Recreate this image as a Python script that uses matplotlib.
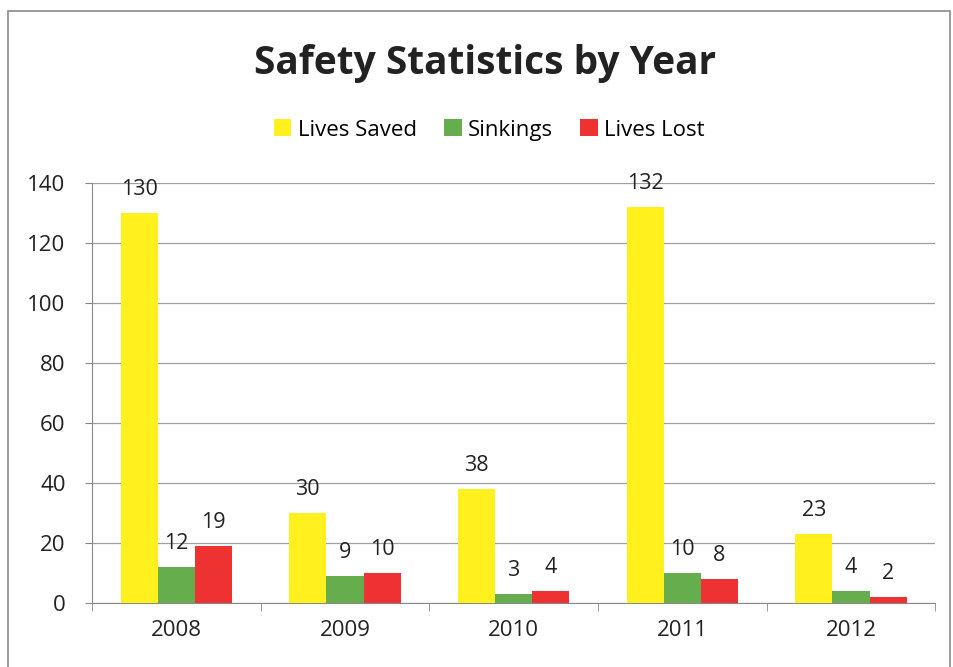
import numpy as np
import matplotlib.pyplot as plt
from matplotlib.patches import Rectangle

years = ["2008", "2009", "2010", "2011", "2012"]
lives_saved = [130, 30, 38, 132, 23]
sinkings = [12, 9, 3, 10, 4]
lives_lost = [19, 10, 4, 8, 2]

plt.rcParams['font.family'] = ['Open Sans', 'DejaVu Sans']

fig = plt.figure(figsize=(9.54, 6.67), dpi=100)
ax = fig.add_axes([0.0964, 0.096, 0.884, 0.63])

# outer chart frame
fig.patches.append(Rectangle((0.008, -0.01), 0.988, 0.993, transform=fig.transFigure,
                             fill=False, edgecolor="#8a8a8a", linewidth=1.2))

x = np.arange(len(years))
w = 0.22
series = [(lives_saved, "#FFF01E", "Lives Saved"),
          (sinkings, "#66AD4E", "Sinkings"),
          (lives_lost, "#EE3131", "Lives Lost")]
for i, (vals, col, name) in enumerate(series):
    bars = ax.bar(x + (i - 1) * w, vals, w, color=col, label=name, zorder=3)
    for b, v in zip(bars, vals):
        ax.annotate(str(v), (b.get_x() + b.get_width() / 2, v), xytext=(0, 9),
                    textcoords="offset points", ha="center", va="bottom",
                    fontsize=15.5, color="#222222")

ax.set_xlim(-0.5, len(years) - 0.5)
ax.set_ylim(0, 140)
ax.set_yticks(range(0, 141, 20))
ax.set_xticks(x)
ax.set_xticklabels(years)
ax.set_xticks(np.arange(-0.5, len(years)), minor=True)
ax.tick_params(axis="x", which="major", length=0, pad=12, labelsize=16, labelcolor="#222222")
ax.tick_params(axis="x", which="minor", length=6, direction="out", color="#888888")
ax.tick_params(axis="y", length=5, direction="out", color="#888888", pad=14,
               labelsize=16, labelcolor="#222222")
ax.grid(axis="y", color="#a0a0a0", linewidth=0.9, zorder=0)
for s in ["top", "right"]:
    ax.spines[s].set_visible(False)
ax.spines["left"].set_color("#888888")
ax.spines["bottom"].set_color("#888888")

fig.text(0.508, 0.905, "Safety Statistics by Year", ha="center", va="center",
         fontsize=28, fontweight="bold", color="#222222")
fig.legend(loc="center", bbox_to_anchor=(0.513, 0.805), ncol=3, frameon=False,
           fontsize=16, handlelength=0.8, handleheight=0.8, handletextpad=0.3,
           columnspacing=1.2)

fig.savefig("out.png", dpi=100)
